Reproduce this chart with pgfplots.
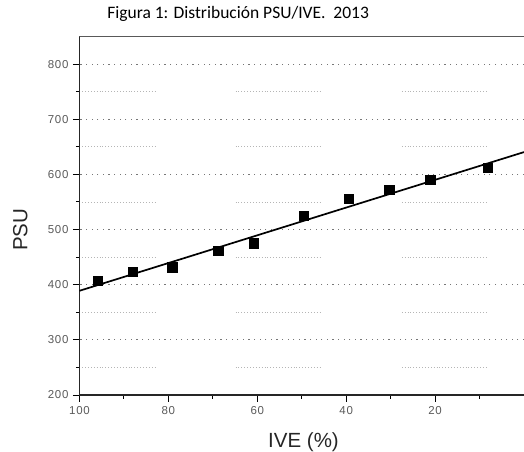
\documentclass[border=0pt]{standalone}
\usepackage{fontspec}
\setmainfont{Liberation Sans}
\newfontfamily\carlito{Carlito}
\newfontfamily\ticksfont[LetterSpace=6]{Liberation Sans}
\usepackage{pgfplots}
\pgfplotsset{compat=1.18}
\definecolor{ticklab}{HTML}{5A5A5A}
\definecolor{majgrid}{HTML}{777777}
\definecolor{mingrid}{HTML}{B5B5B5}
\begin{document}
\begin{tikzpicture}
\begin{axis}[
  scale only axis,
  width=444.5pt, height=359pt,
  xmin=0, xmax=100, x dir=reverse,
  ymin=200, ymax=851,
  axis x line=bottom, axis y line=left,
  axis line style={-, black!85, line width=1.2pt},
  xtick={20,40,60,80,100},
  minor xtick={10,30,50,70,90},
  ytick={200,300,400,500,600,700,800},
  minor ytick={250,350,450,550,650,750},
  tick align=outside,
  major tick length=6.5pt,
  minor tick length=3.5pt,
  every tick/.style={black, line width=1pt},
  /pgf/number format/assume math mode=true,
  tick label style={font=\ticksfont\fontsize{11.5}{13}\selectfont, text=ticklab},
  xticklabel style={yshift=-1pt},
  yticklabel style={xshift=-1pt},
  ymajorgrids,
  major grid style={majgrid, line width=1.1pt, dash pattern=on 1.1pt off 4.5pt},
  xlabel={IVE (\%)},
  ylabel={PSU},
  label style={font=\fontsize{20.5}{22}\selectfont, text=black!85},
  xlabel style={at={(axis description cs:0.504,-0.131)}, anchor=center},
  ylabel style={at={(axis description cs:-0.133,0.46)}, anchor=center, rotate=0},
  title={\carlito Figura 1: Distribución PSU/IVE.\ \ 2013},
  title style={at={(axis description cs:0.357,1.045)}, anchor=center, font=\fontsize{17.5}{19}\selectfont},
  clip=true,
]
\pgfplotsinvokeforeach{250,350,450,550,650,750}{
  \addplot[mingrid, line width=0.9pt, dash pattern=on 0.9pt off 2pt] coordinates {(99.4,#1) (82.6,#1)};
  \addplot[mingrid, line width=0.9pt, dash pattern=on 0.9pt off 2pt] coordinates {(64.9,#1) (45.6,#1)};
  \addplot[mingrid, line width=0.9pt, dash pattern=on 0.9pt off 2pt] coordinates {(27.5,#1) (8.1,#1)};
}
\addplot[black, line width=1.7pt] coordinates {(100,389) (0,640.5)};
\addplot[only marks, mark=square*, mark size=4.7pt, black] coordinates {
  (95.9,407) (88.0,424) (79.1,432) (68.8,462) (60.8,475)
  (49.6,525) (39.4,556) (30.3,572) (21.1,590) (8.1,612)
};
\draw[black!65, line width=1.1pt] (rel axis cs:0,1) -- (rel axis cs:1,1);
\end{axis}
\pgfresetboundingbox
\useasboundingbox (-79.5pt,-56pt) rectangle (444.5pt,395pt);
\end{tikzpicture}
\end{document}
